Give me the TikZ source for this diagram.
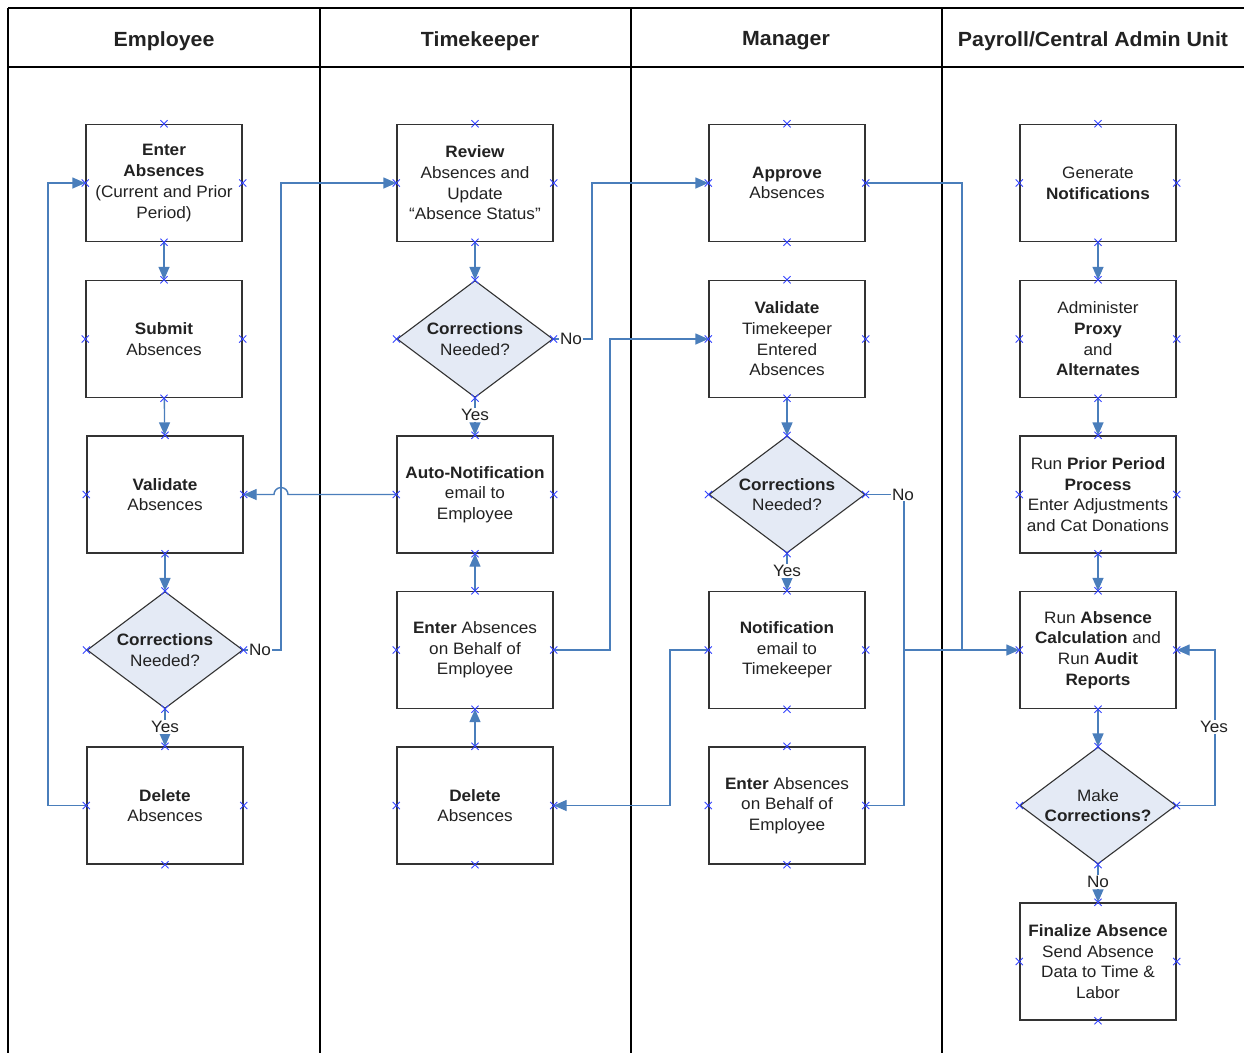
\documentclass[tikz,border=0pt]{standalone}
\usepackage{fontspec}
\setmainfont[FakeStretch=1.04]{Liberation Sans}
\usetikzlibrary{shapes.geometric,arrows.meta}
\definecolor{cblue}{HTML}{4A7EBB}
\definecolor{xblue}{HTML}{3344FF}
\definecolor{dfill}{HTML}{E4EAF5}
\definecolor{ink}{HTML}{222222}
\definecolor{edgec}{HTML}{333333}
\newcommand{\boxfont}{\fontsize{16.5}{20.7}\selectfont}
\newcommand{\hdrfont}{\fontsize{20.5}{24}\selectfont\bfseries}
\newcommand{\cmarks}[1]{%
  \foreach \a in {north,south,east,west}{%
    \draw[xm] ([xshift=-3.6pt,yshift=-3.6pt]#1.\a) -- ([xshift=3.6pt,yshift=3.6pt]#1.\a)
              ([xshift=-3.6pt,yshift=3.6pt]#1.\a) -- ([xshift=3.6pt,yshift=-3.6pt]#1.\a);}}
\begin{document}
\begin{tikzpicture}[x=1pt,y=-1pt,
  proc/.style={draw=edgec, line width=1.4pt, minimum width=156pt, minimum height=117pt,
               align=center, inner sep=0pt, text=ink, font=\boxfont},
  dec/.style={diamond, draw=edgec, line width=1.1pt, fill=dfill, minimum width=156pt,
              minimum height=117pt, aspect=1.333, inner sep=0pt, align=center, text=ink, font=\boxfont},
  hdr/.style={font=\hdrfont, text=ink},
  lane/.style={draw=black, line width=1.4pt},
  conn/.style={draw=cblue, line width=1.4pt},
  arr/.style={conn, -{Triangle[length=13pt,width=11pt]}},
  lbl/.style={fill=white, inner sep=1pt, text=ink, font=\boxfont},
  xm/.style={draw=xblue, line width=0.9pt}
]
\useasboundingbox (0,0) rectangle (1244,1053);
\fill[white] (0,0) rectangle (1244,1053);

% frame and lanes
\draw[lane, line width=2.2pt] (8,8) -- (1244,8);
\draw[lane] (8,67) -- (1244,67);
\draw[lane] (8,8) -- (8,1053);
\draw[lane] (320,8) -- (320,1053);
\draw[lane] (631,8) -- (631,1053);
\draw[lane] (942,8) -- (942,1053);

\node[hdr] (h1) at (164,41) {Employee};
\node[hdr] (h2) at (480,41) {Timekeeper};
\node[hdr] (h3) at (786,41) {Manager};
\node[hdr] (h4) at (1093,41) {Payroll/Central Admin Unit};

% Employee
\node[proc] (e1) at (164,183) {\textbf{Enter}\\\textbf{Absences}\\(Current and Prior\\Period)};
\node[proc] (e2) at (164,339) {\textbf{Submit}\\Absences};
\node[proc] (e3) at (165,494.5) {\textbf{Validate}\\Absences};
\node[dec]  (e4) at (165,650) {\textbf{Corrections}\\Needed?};
\node[proc] (e5) at (165,805.5) {\textbf{Delete}\\Absences};

% Timekeeper
\node[proc] (t1) at (475,183) {\textbf{Review}\\Absences and\\Update\\``Absence Status''};
\node[dec]  (t2) at (475,339) {\textbf{Corrections}\\Needed?};
\node[proc] (t3) at (475,494.5) {\textbf{Auto-Notification}\\email to\\Employee};
\node[proc] (t4) at (475,650) {\textbf{Enter} Absences\\on Behalf of\\Employee};
\node[proc] (t5) at (475,805.5) {\textbf{Delete}\\Absences};

% Manager
\node[proc] (m1) at (787,183) {\textbf{Approve}\\Absences};
\node[proc] (m2) at (787,339) {\textbf{Validate}\\Timekeeper\\Entered\\Absences};
\node[dec]  (m3) at (787,494.5) {\textbf{Corrections}\\Needed?};
\node[proc] (m4) at (787,650) {\textbf{Notification}\\email to\\Timekeeper};
\node[proc] (m5) at (787,805.5) {\textbf{Enter} Absences\\on Behalf of\\Employee};

% Payroll
\node[proc] (p1) at (1098,183) {Generate\\\textbf{Notifications}};
\node[proc] (p2) at (1098,339) {Administer\\\textbf{Proxy}\\and\\\textbf{Alternates}};
\node[proc] (p3) at (1098,494.5) {Run \textbf{Prior Period}\\\textbf{Process}\\Enter Adjustments\\and Cat Donations};
\node[proc] (p4) at (1098,650) {Run \textbf{Absence}\\\textbf{Calculation} and\\Run \textbf{Audit}\\\textbf{Reports}};
\node[dec]  (p5) at (1098,805.5) {Make\\\textbf{Corrections?}};
\node[proc] (p6) at (1098,961.5) {\textbf{Finalize Absence}\\Send Absence\\Data to Time \&\\Labor};

% junction coordinates
\coordinate (jE) at (48,805.5);
\coordinate (jEn) at (281,650);
\coordinate (jTn) at (592,339);
\coordinate (jT4) at (610,650);
\coordinate (jM1) at (962,183);
\coordinate (jMn) at (904,650);
\coordinate (jM4) at (670,650);
\coordinate (jP) at (1215,805.5);

% Employee connectors
\draw[arr] (e1) -- (e2);
\draw[arr] (e2) -- (e3);
\draw[arr] (e3) -- (e4);
\draw[arr] (e4) -- (e5);
\draw[arr] (e5.west) -- (jE) |- (e1.west);
\draw[arr] (e4.east) -- (jEn) |- (t1.west);
\node[lbl] (ln1) at (260,650) {No};
\node[lbl] (ly1) at (165,727) {Yes};

% Timekeeper connectors
\draw[arr] (t1) -- (t2);
\draw[arr] (t2) -- (t3);
\draw[arr] (t4) -- (t3);
\draw[arr] (t5) -- (t4);
\draw[arr] (t2.east) -- (jTn) |- (m1.west);
\draw[arr] (t4.east) -- (jT4) |- (m2.west);
\draw[arr] (t3.west) -- (288,494.5) arc[start angle=0, end angle=180, radius=7pt] -- (e3.east);
\node[lbl] (ln2) at (571,339) {No};
\node[lbl] (ly2) at (475,415) {Yes};

% Manager connectors
\draw[arr] (m2) -- (m3);
\draw[arr] (m3) -- (m4);
\draw[conn] (m1.east) -| (jM1) -- (962,650);
\draw[conn] (m3.east) -| (jMn);
\draw[conn] (m5.east) -| (jMn);
\draw[arr] (jMn) -- (p4.west);
\draw[arr] (m4.west) -- (jM4) |- (t5.east);
\node[lbl] (ln3) at (903,494.5) {No};
\node[lbl] (ly3) at (787,571) {Yes};

% Payroll connectors
\draw[arr] (p1) -- (p2);
\draw[arr] (p2) -- (p3);
\draw[arr] (p3) -- (p4);
\draw[arr] (p4) -- (p5);
\draw[arr] (p5) -- (p6);
\draw[arr] (p5.east) -- (jP) |- (p4.east);
\node[lbl] (ly4) at (1214,727) {Yes};
\node[lbl] (ln4) at (1098,882) {No};

% connection point markers
\foreach \n in {e1,e2,e3,e4,e5,t1,t2,t3,t4,t5,m1,m2,m3,m4,m5,p1,p2,p3,p4,p5,p6}{\cmarks{\n}}
\end{tikzpicture}
\end{document}
